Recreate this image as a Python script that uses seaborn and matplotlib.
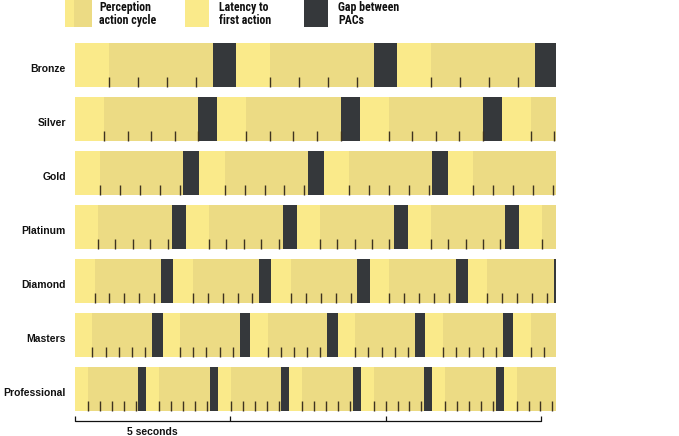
import matplotlib
matplotlib.use("Agg")
import matplotlib.pyplot as plt
import numpy as np
import pandas as pd
import seaborn as sns
from matplotlib import font_manager
from matplotlib.patches import Rectangle

# leagues, top to bottom
leagues = ["Bronze", "Silver", "Gold", "Platinum", "Diamond", "Masters", "Professional"]
# durations in seconds
latency = [1.09, 0.93, 0.82, 0.74, 0.63, 0.56, 0.41]      # latency to first action
pac_len = [3.35, 3.04, 2.67, 2.38, 2.14, 1.92, 1.63]      # perception action cycle
gap_len = [0.74, 0.61, 0.51, 0.45, 0.39, 0.34, 0.26]      # gap between PACs
action_step = [0.94, 0.76, 0.64, 0.56, 0.48, 0.425, 0.385]  # time between actions
n_actions = [4, 5, 5, 5, 5, 5, 5]
t_end = 15.48
scale_ticks = [0, 5, 10, 15]

c_lat = "#FAEA8A"
c_pac = "#ECDB84"
c_gap = "#35383B"
c_tick = "#3d3220"

sns.set_theme(style="white")
plt.rcParams["font.family"] = ["Liberation Sans", "DejaVu Sans"]

# pick a narrow face for the legend if one is there
names = set(f.name for f in font_manager.fontManager.ttflist)
narrow = "Liberation Sans"
for cand in ["Liberation Sans Narrow", "Arial Narrow", "Roboto Condensed",
             "DejaVu Sans Condensed"]:
    if cand in names:
        narrow = cand
        break

# build segment table
rows = []
for i, lg in enumerate(leagues):
    t = 0.0
    while t < t_end:
        rows.append((i, "lat", t, latency[i]))
        t += latency[i]
        rows.append((i, "pac", t, pac_len[i]))
        for k in range(n_actions[i]):
            rows.append((i, "tick", t + k * action_step[i], 0))
        t += pac_len[i]
        rows.append((i, "gap", t, gap_len[i]))
        t += gap_len[i]
seg = pd.DataFrame(rows, columns=["row", "kind", "start", "dur"])

fig = plt.figure(figsize=(6.79, 4.36), dpi=100)
W, H = 679, 436
ax = fig.add_axes([75 / W, 1 - 415.5 / H, 481 / W, 377.5 / H])

band_h = 0.815
colors = {"lat": c_lat, "pac": c_pac, "gap": c_gap}
for kind in ["lat", "pac", "gap"]:
    d = seg[seg.kind == kind]
    ax.barh(d.row, d.dur, left=d.start, height=band_h, color=colors[kind],
            linewidth=0, align="center")

tk = seg[(seg.kind == "tick") & (seg.start < t_end)]
ax.vlines(tk.start, tk.row + band_h / 2 - 0.185, tk.row + band_h / 2,
          color=c_tick, linewidth=1.0)

ax.set_xlim(0, t_end)
ax.set_ylim(6.5, -0.5)
ax.set_xticks([])
ax.set_yticks([])
sns.despine(ax=ax, left=True, bottom=True)

for i, lg in enumerate(leagues):
    ax.annotate(lg, xy=(0, i), xycoords=("axes fraction", "data"),
                xytext=(-6.5, -3.2), textcoords="offset points",
                ha="right", va="center", fontsize=7.5, fontweight="bold",
                color="#111111")

# scale bar
ybar = 6.605
ax.plot([scale_ticks[0], scale_ticks[-1]], [ybar, ybar], color="#111111",
        linewidth=0.9, clip_on=False)
ax.vlines(scale_ticks, ybar - 0.1, ybar, color="#111111", linewidth=0.9,
          clip_on=False)
ax.text((scale_ticks[0] + scale_ticks[1]) / 2, ybar + 0.2, "5 seconds",
        ha="center", va="center", fontsize=7.5, fontweight="bold",
        color="#111111", clip_on=False)

# legend at the top
def fig_rect(x0, y0, w, h, c):
    fig.add_artist(Rectangle((x0 / W, 1 - (y0 + h) / H), w / W, h / H,
                             facecolor=c, edgecolor="none",
                             transform=fig.transFigure))

fig_rect(65, 0, 9, 27, c_lat)
fig_rect(74, 0, 18, 27, c_pac)
fig_rect(185, 0, 24, 27, c_lat)
fig_rect(304, 0, 24, 27, c_gap)
leg_size = 8.6 if narrow != "Liberation Sans" else 7.3
for x, txt in [(99, "Perception\naction cycle"), (219, "Latency to\nfirst action"),
               (338, "Gap between\nPACs")]:
    fig.text(x / W, 1 - 14 / H, txt, ha="left", va="center", fontsize=leg_size,
             fontweight="bold", family=[narrow, "DejaVu Sans"],
             linespacing=1.05, color="#111111")

fig.savefig("out.png", dpi=100)
